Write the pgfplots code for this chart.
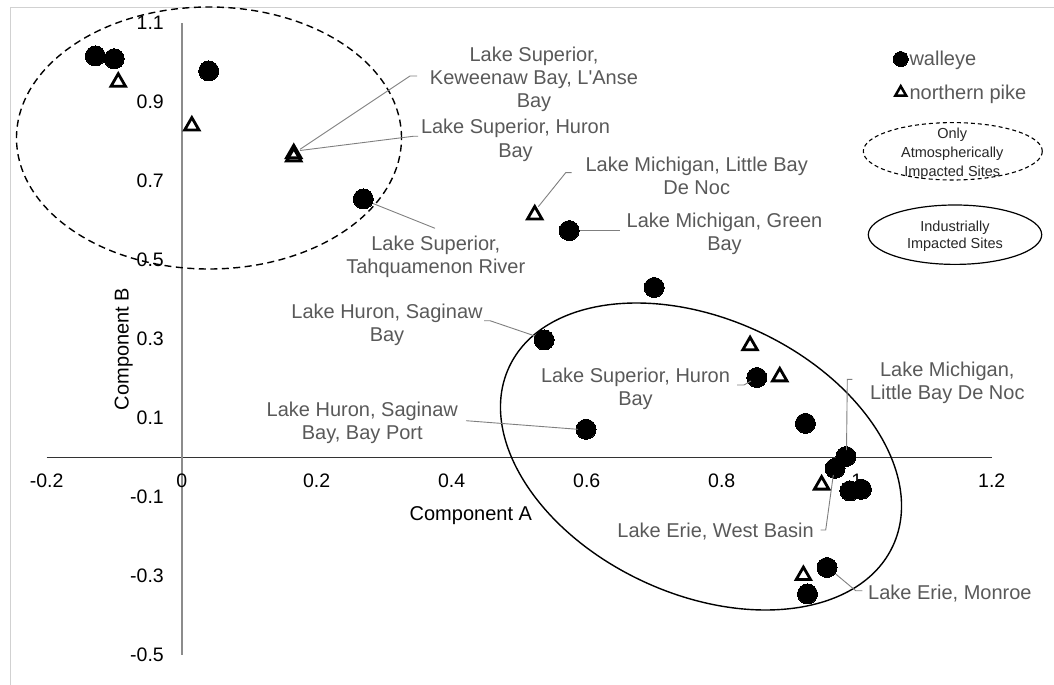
\documentclass[border=0pt]{standalone}
\usepackage{fontspec}
\setmainfont{Liberation Sans}
\usepackage{pgfplots}
\pgfplotsset{compat=1.18}
\definecolor{lblgray}{HTML}{595959}
\definecolor{leadgray}{HTML}{7F7F7F}
\newcommand{\fs}[2]{\fontsize{#1bp}{#2bp}\selectfont}
\pgfplotsset{
  circleleg/.style={legend image code/.code={\draw[##1, mark size=7.5bp] plot coordinates {(0bp,0bp)};}},
  triangleg/.style={legend image code/.code={\draw[##1, mark size=6.3bp, mark options={line width=2.5bp, draw=black, line join=miter}] plot coordinates {(0bp,0bp)};}},
}
\begin{document}
\begin{tikzpicture}
\begin{axis}[
  anchor=origin, at={(181.7bp,-457.3bp)},
  width=945bp, height=632bp, scale only axis,
  xmin=-0.2, xmax=1.2, ymin=-0.5, ymax=1.1,
  axis lines=middle,
  axis line style={-},
  x axis line style={black!80, line width=1bp},
  y axis line style={black!45, line width=1.6bp},
  xtick={-0.2,0,0.2,0.4,0.6,0.8,1,1.2},
  ytick={-0.5,-0.3,-0.1,0.1,0.3,0.5,0.7,0.9,1.1},
  major tick length=0pt,
  hide obscured x ticks=false,
  hide obscured y ticks=false,
  /pgf/number format/assume math mode=true,
  xticklabel={\pgfmathprintnumber{\tick}},
  yticklabel={\pgfmathprintnumber{\tick}},
  ticklabel style={font=\fs{19.5}{23}, inner sep=0pt, text=black},
  xticklabel style={anchor=center, yshift=-23.4bp},
  yticklabel style={anchor=east, xshift=-17.7bp},
  every axis x label/.style={at={(axis description cs:0.4488,0.2201)}, anchor=center},
  every axis y label/.style={at={(axis description cs:0.0815,0.4840)}, anchor=center, rotate=90},
  xlabel={Component A}, ylabel={Component B},
  label style={font=\fs{20}{23}, text=black},
  clip=false,
  legend style={draw=none, fill=none, at={(axis description cs:0.8956,0.9556)}, anchor=north west,
    inner sep=0pt, row sep=17.5bp, column sep=1.3bp,
    nodes={inner sep=0pt, font=\fs{20}{23.3}, text=lblgray}},
  legend cell align=left,
]
\addplot[only marks, mark=*, mark size=10bp, black, mark options={line width=0pt, fill=black}, circleleg]
coordinates {
(-0.128,1.016) (-0.100,1.009) (0.040,0.978) (0.269,0.654)
(0.574,0.574) (0.700,0.430) (0.537,0.297) (0.852,0.202)
(0.599,0.071) (0.924,0.086) (0.984,0.002) (0.968,-0.028)
(0.990,-0.085) (1.007,-0.081) (0.956,-0.279) (0.927,-0.346)
};
\addlegendentry{walleye}
\addplot[only marks, mark=triangle, mark size=8.3bp, black, mark options={line width=2.8bp, draw=black, line join=miter}, triangleg]
coordinates {
(-0.094,0.950) (0.015,0.839) (0.166,0.769) (0.166,0.761)
(0.523,0.614) (0.842,0.283) (0.886,0.204) (0.948,-0.070)
(0.921,-0.299)
};
\addlegendentry{northern pike}
\end{axis}

\begin{scope}[x=1bp, y=-1bp,
  lbl/.style={font=\fs{20}{23.3}, text=lblgray, inner sep=0pt, align=center},
  lead/.style={draw=leadgray, line width=0.9bp}]
% chart border
\draw[black!18, line width=1bp] (10,1000) -- (10,7.3) -- (1100,7.3);
% group ellipses
\draw[black, line width=1.4bp, dash pattern=on 7bp off 4.5bp] (209,138) ellipse [x radius=192.5bp, y radius=131bp];
\draw[black, line width=1.4bp, rotate around={-25:(701,456.5)}] (701,456.5) ellipse [x radius=211.7bp, y radius=137.6bp];
% leader lines
\draw[lead] (300,149.3) -- (410,76) -- (417,76);
\draw[lead] (300,150.5) -- (413,136.3) -- (418,136.3);
\draw[lead] (373,203.5) -- (435,228.3);
\draw[lead] (538.3,206.7) -- (565.7,172.7) -- (571.7,172.7);
\draw[lead] (580,230.7) -- (620,230.7);
\draw[lead] (484,320.7) -- (490,320.7) -- (535,336);
\draw[lead] (466,420.7) -- (578,429.3);
\draw[lead] (737,385) -- (744,385) -- (751,381);
\draw[lead] (852.3,379.3) -- (847.3,379.3) -- (846.5,450);
\draw[lead] (820.7,530) -- (825.7,530) -- (833.3,475);
\draw[lead] (835.7,574) -- (855.7,590.7) -- (862.3,590.7);
% data labels
\node[lbl] at (534,79.5) {Lake Superior,\\Keweenaw Bay, L\textquotesingle Anse\\Bay};
\node[lbl] at (515.5,140.3) {Lake Superior, Huron\\Bay};
\node[lbl] at (435.8,257) {Lake Superior,\\Tahquamenon River};
\node[lbl] at (696.7,175.9) {Lake Michigan, Little Bay\\De Noc};
\node[lbl] at (724.5,234) {Lake Michigan, Green\\Bay};
\node[lbl] at (387,324.7) {Lake Huron, Saginaw\\Bay};
\node[lbl] at (362.3,423) {Lake Huron, Saginaw\\Bay, Bay Port};
\node[lbl] at (635.5,388.7) {Lake Superior, Huron\\Bay};
\node[lbl] at (947.3,382.5) {Lake Michigan,\\Little Bay De Noc};
\node[lbl, anchor=east] at (814,532) {Lake Erie, West Basin};
\node[lbl, anchor=west] at (868,593.7) {Lake Erie, Monroe};
% legend ellipses
\draw[black, line width=1.1bp, dash pattern=on 4bp off 3bp] (952.8,151.3) ellipse [x radius=89.5bp, y radius=28.7bp];
\node[font=\fs{14.5}{19}, text=black!85, inner sep=0pt, align=center] at (952.3,154) {Only\\Atmospherically\\Impacted Sites};
\draw[black, line width=1.2bp] (955,234.7) ellipse [x radius=86.7bp, y radius=29.7bp];
\node[font=\fs{14.5}{16.6}, text=black!85, inner sep=0pt, align=center] at (955,236.5) {Industrially\\Impacted Sites};
\pgfresetboundingbox
\path[use as bounding box] (0,0) rectangle (1054,685);
\end{scope}
\end{tikzpicture}
\end{document}
